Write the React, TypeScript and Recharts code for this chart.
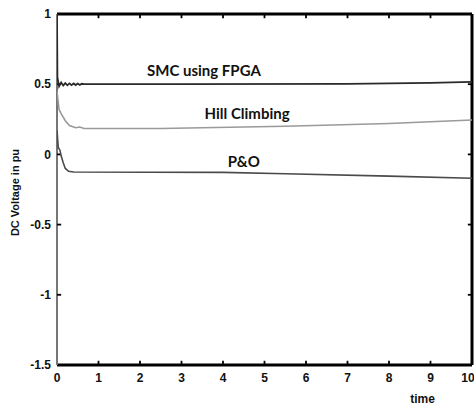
import {
  LineChart,
  Line,
  XAxis,
  YAxis,
  ReferenceDot,
  ReferenceLine,
} from "recharts";

// time axis and tick values
const xTicks = [0, 1, 2, 3, 4, 5, 6, 7, 8, 9, 10];
const yTicks = [-1.5, -1, -0.5, 0, 0.5, 1];

// SMC using FPGA
const smcTime = [0, 0.01, 0.05, 0.1, 0.15, 0.2, 0.25, 0.3, 0.35, 0.4, 0.45, 0.5, 0.55, 0.6, 0.65, 3, 7, 9, 10];
const smcValue = [1.0, 0.55, 0.485, 0.512, 0.49, 0.508, 0.492, 0.506, 0.493, 0.505, 0.494, 0.505, 0.495, 0.503, 0.5, 0.5, 0.502, 0.51, 0.517];

// Hill Climbing
const hillTime = [0, 0.05, 0.1, 0.2, 0.3, 0.45, 0.55, 0.65, 2.5, 5.5, 8, 10];
const hillValue = [0.45, 0.32, 0.29, 0.24, 0.205, 0.19, 0.195, 0.185, 0.185, 0.2, 0.22, 0.245];

// P&O
const poTime = [0, 0.03, 0.07, 0.1, 0.15, 0.2, 0.28, 0.4, 4, 5.5, 8, 10];
const poValue = [0.17, 0.05, 0.03, -0.01, -0.06, -0.1, -0.12, -0.125, -0.128, -0.138, -0.155, -0.17];

const X0 = 0;
const X1 = 10;
const Y0 = -1.5;
const Y1 = 1;
// inward tick lengths in data units (about 4px)
const TX = 0.1;
const TY = 0.03;

const toRows = (t: number[], v: number[]) => t.map((x, i) => ({ t: x, v: v[i] }));

const tickStyle = {
  fontFamily: "'Liberation Sans', Arial, sans-serif",
  fontSize: 12,
  fontWeight: 700,
  fill: "#111",
};

const noteStyle = {
  fontFamily: "Lato, sans-serif",
  fontSize: 15,
  fontWeight: 700,
  fill: "#111",
};

const frame = "#000000";

export default function App() {
  const seg = (key: string, a: [number, number], b: [number, number], color = frame, w = 3) => (
    <ReferenceLine
      key={key}
      xAxisId="b"
      yAxisId="l"
      segment={[{ x: a[0], y: a[1] }, { x: b[0], y: b[1] }]}
      stroke={color}
      strokeWidth={w}
      strokeOpacity={1}
      ifOverflow="visible"
    />
  );

  return (
    <div style={{ position: "absolute", left: 0, top: 0, background: "#fff" }}>
      <LineChart
        width={474}
        height={410}
        margin={{ top: 14, right: 2, bottom: 0, left: 0 }}
      >
        <XAxis
          xAxisId="b"
          dataKey="t"
          type="number"
          domain={[X0, X1]}
          ticks={xTicks}
          height={45}
          tick={tickStyle}
          tickSize={0}
          tickMargin={8}
          axisLine={false}
          tickLine={false}
          allowDataOverflow
          label={{ value: "time", position: "center", dx: 158, dy: 11, style: tickStyle }}
        />
        <YAxis
          yAxisId="l"
          type="number"
          domain={[Y0, Y1]}
          ticks={yTicks}
          width={57}
          tick={tickStyle}
          tickSize={0}
          tickMargin={6}
          axisLine={false}
          tickLine={false}
          allowDataOverflow
          label={{
            value: "DC Voltage in pu",
            angle: -90,
            position: "center",
            dx: -13,
            dy: 3,
            style: { ...tickStyle, fontSize: 11 },
          }}
        />
        {/* plot frame, left edge lighter */}
        {seg("top", [X0, Y1], [X1, Y1])}
        {seg("bottom", [X0, Y0], [X1, Y0])}
        {seg("right", [X1, Y0], [X1, Y1])}
        {seg("left", [X0, Y0], [X0, Y1], "#777777", 2)}
        {/* inward ticks on all four sides */}
        {xTicks.slice(1, -1).map((x) => seg(`tb${x}`, [x, Y0], [x, Y0 + TY], frame, 1.8))}
        {xTicks.slice(1, -1).map((x) => seg(`tt${x}`, [x, Y1], [x, Y1 - TY], frame, 1.8))}
        {yTicks.slice(1, -1).map((y) => seg(`tl${y}`, [X0, y], [X0 + TX, y], frame, 1.8))}
        {yTicks.slice(1, -1).map((y) => seg(`tr${y}`, [X1, y], [X1 - TX, y], frame, 1.8))}
        <Line
          xAxisId="b"
          yAxisId="l"
          data={toRows(hillTime, hillValue)}
          dataKey="v"
          type="linear"
          stroke="#9a9a9a"
          strokeWidth={1.6}
          dot={false}
          isAnimationActive={false}
        />
        <Line
          xAxisId="b"
          yAxisId="l"
          data={toRows(poTime, poValue)}
          dataKey="v"
          type="linear"
          stroke="#4a4a4a"
          strokeWidth={1.6}
          dot={false}
          isAnimationActive={false}
        />
        <Line
          xAxisId="b"
          yAxisId="l"
          data={toRows(smcTime, smcValue)}
          dataKey="v"
          type="linear"
          stroke="#2a2a2a"
          strokeWidth={1.8}
          dot={false}
          isAnimationActive={false}
        />
        <ReferenceDot
          xAxisId="b"
          yAxisId="l"
          x={3.54}
          y={0.595}
          r={0}
          label={{ value: "SMC using FPGA", position: "center", style: noteStyle }}
        />
        <ReferenceDot
          xAxisId="b"
          yAxisId="l"
          x={4.58}
          y={0.29}
          r={0}
          label={{ value: "Hill Climbing", position: "center", style: noteStyle }}
        />
        <ReferenceDot
          xAxisId="b"
          yAxisId="l"
          x={4.5}
          y={-0.055}
          r={0}
          label={{ value: "P&O", position: "center", style: noteStyle }}
        />
      </LineChart>
    </div>
  );
}
